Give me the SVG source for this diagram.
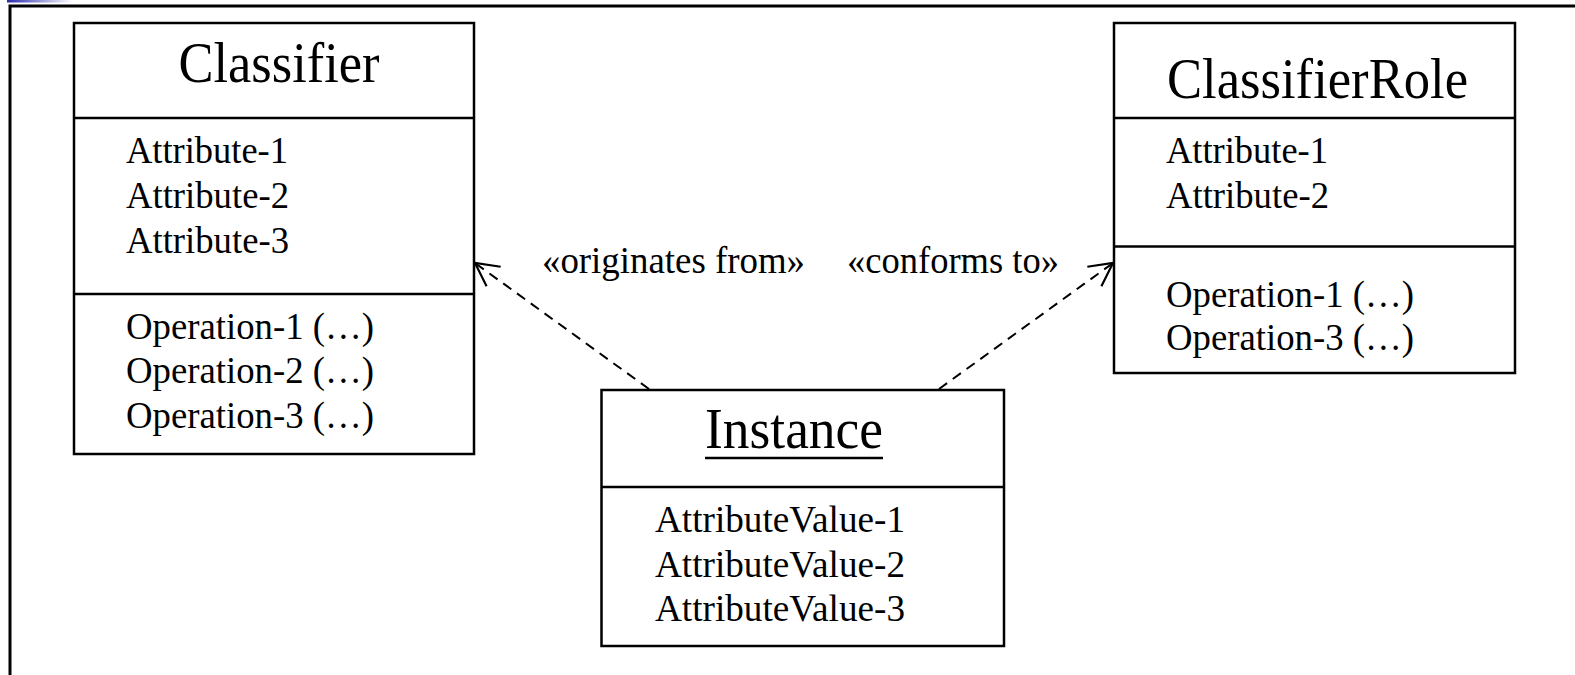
<svg xmlns="http://www.w3.org/2000/svg" width="1575" height="675" viewBox="0 0 1575 675">
<defs>
<linearGradient id="bar" x1="0" y1="0" x2="1" y2="0">
<stop offset="0" stop-color="#2a2ab0"/>
<stop offset="1" stop-color="#ffffff"/>
</linearGradient>
<marker id="open" viewBox="0 0 30 30" refX="28" refY="15" markerWidth="30" markerHeight="30" markerUnits="userSpaceOnUse" orient="auto">
<path d="M5,3 L28,15 L5,27" fill="none" stroke="#000" stroke-width="2.2"/>
</marker>
<style>
.box{fill:#fff;stroke:#000;stroke-width:2.5}
.div{stroke:#000;stroke-width:2.5}
.hd{font-family:"Liberation Serif","Times New Roman",serif;font-size:56px;fill:#000}
.tx{font-family:"Liberation Serif","Times New Roman",serif;font-size:38px;fill:#000}
.conn{fill:none;stroke:#000;stroke-width:2;stroke-dasharray:10 7}
</style>
</defs>
<rect width="1575" height="675" fill="#fff"/>
<rect x="7" y="0" width="65" height="2.5" fill="url(#bar)"/>
<path d="M10,675 V6 H1575" fill="none" stroke="#000" stroke-width="3"/>

<g id="classifier">
<rect class="box" x="74" y="23" width="400" height="431"/>
<line class="div" x1="74" y1="118" x2="474" y2="118"/>
<line class="div" x1="74" y1="294" x2="474" y2="294"/>
<text class="hd" x="279" y="82" text-anchor="middle" textLength="201" lengthAdjust="spacingAndGlyphs">Classifier</text>
<text class="tx" x="126" y="163" textLength="162" lengthAdjust="spacingAndGlyphs">Attribute-1</text>
<text class="tx" x="126" y="208" textLength="163" lengthAdjust="spacingAndGlyphs">Attribute-2</text>
<text class="tx" x="126" y="253" textLength="163" lengthAdjust="spacingAndGlyphs">Attribute-3</text>
<text class="tx" x="126" y="339" textLength="248" lengthAdjust="spacingAndGlyphs">Operation-1 (…)</text>
<text class="tx" x="126" y="383" textLength="248" lengthAdjust="spacingAndGlyphs">Operation-2 (…)</text>
<text class="tx" x="126" y="428" textLength="248" lengthAdjust="spacingAndGlyphs">Operation-3 (…)</text>
</g>

<g id="classifierrole">
<rect class="box" x="1114" y="23" width="401" height="350"/>
<line class="div" x1="1114" y1="118" x2="1515" y2="118"/>
<line class="div" x1="1114" y1="246.5" x2="1515" y2="246.5"/>
<text class="hd" x="1167" y="98" textLength="301" lengthAdjust="spacingAndGlyphs">ClassifierRole</text>
<text class="tx" x="1166" y="163" textLength="162" lengthAdjust="spacingAndGlyphs">Attribute-1</text>
<text class="tx" x="1166" y="208" textLength="163" lengthAdjust="spacingAndGlyphs">Attribute-2</text>
<text class="tx" x="1166" y="307" textLength="248" lengthAdjust="spacingAndGlyphs">Operation-1 (…)</text>
<text class="tx" x="1166" y="350" textLength="248" lengthAdjust="spacingAndGlyphs">Operation-3 (…)</text>
</g>

<g id="instance">
<rect class="box" x="601.5" y="390" width="402.5" height="256"/>
<line class="div" x1="601.5" y1="487" x2="1004" y2="487"/>
<text class="hd" x="705" y="448" textLength="178" lengthAdjust="spacingAndGlyphs">Instance</text>
<line x1="705" y1="458" x2="883" y2="458" stroke="#000" stroke-width="2.5"/>
<text class="tx" x="655" y="532" textLength="250" lengthAdjust="spacingAndGlyphs">AttributeValue-1</text>
<text class="tx" x="655" y="577" textLength="250" lengthAdjust="spacingAndGlyphs">AttributeValue-2</text>
<text class="tx" x="655" y="621" textLength="250" lengthAdjust="spacingAndGlyphs">AttributeValue-3</text>
</g>

<g id="connectors">
<line class="conn" x1="649" y1="389" x2="475" y2="263" marker-end="url(#open)"/>
<line class="conn" x1="939" y1="389" x2="1113" y2="263" marker-end="url(#open)"/>
<text class="tx" x="542" y="273" textLength="263" lengthAdjust="spacingAndGlyphs">«originates from»</text>
<text class="tx" x="847" y="273" textLength="212" lengthAdjust="spacingAndGlyphs">«conforms to»</text>
</g>
</svg>
